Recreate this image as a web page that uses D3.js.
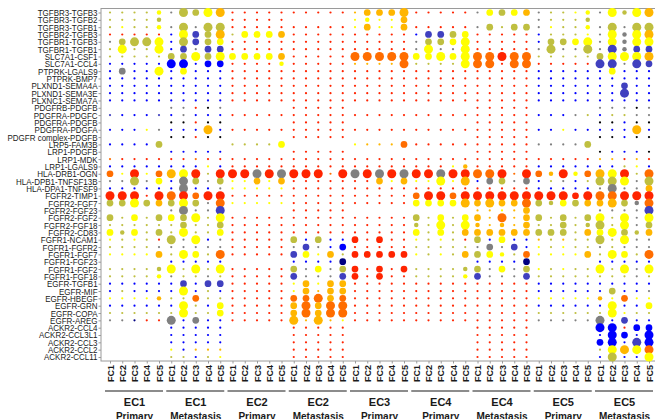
<!DOCTYPE html>
<html>
<head>
<meta charset="utf-8">
<script src="https://cdn.jsdelivr.net/npm/d3@7"></script>
<style>
  body { margin: 0; background: #fff; }
  svg { display: block; font-family: "Liberation Sans", Arial, sans-serif; }
</style>
</head>
<body>
<div id="chart"></div>
<script>
// ligand-receptor pairs, top to bottom
const pairs = [
  "TGFBR3-TGFB3", "TGFBR3-TGFB2", "TGFBR3-TGFB1", "TGFBR2-TGFB3", "TGFBR1-TGFB3", "TGFBR1-TGFB1",
  "SLC7A1-CSF1", "SLC7A1-CCL4", "PTPRK-LGALS9", "PTPRK-BMP7", "PLXND1-SEMA4A", "PLXND1-SEMA3E",
  "PLXNC1-SEMA7A", "PDGFRB-PDGFB", "PDGFRA-PDGFC", "PDGFRA-PDGFB", "PDGFRA-PDGFA", "PDGFR complex-PDGFB",
  "LRP5-FAM3B", "LRP1-PDGFB", "LRP1-MDK", "LRP1-LGALS9", "HLA-DRB1-OGN", "HLA-DPB1-TNFSF13B",
  "HLA-DPA1-TNFSF9", "FGFR2-TIMP1", "FGFR2-FGF7", "FGFR2-FGF23", "FGFR2-FGF2", "FGFR2-FGF18",
  "FGFR2-CD83", "FGFR1-NCAM1", "FGFR1-FGFR2", "FGFR1-FGF7", "FGFR1-FGF23", "FGFR1-FGF2",
  "FGFR1-FGF18", "EGFR-TGFB1", "EGFR-MIF", "EGFR-HBEGF", "EGFR-GRN", "EGFR-COPA",
  "EGFR-AREG", "ACKR2-CCL4", "ACKR2-CCL3L1", "ACKR2-CCL3", "ACKR2-CCL2", "ACKR2-CCL11"
];
const clusters = ["FC1", "FC2", "FC3", "FC4", "FC5"];
const sites = ["EC1", "EC1", "EC2", "EC2", "EC3", "EC4", "EC4", "EC5", "EC5"];
const sampleTypes = ["Primary", "Metastasis", "Primary", "Metastasis", "Primary", "Primary", "Metastasis", "Primary", "Metastasis"];

// one string per pair, 9 sample groups split by "|", 5 clusters each.
// token = mean level (0..9) + significance level (0..3), "--" = no value
const dotCodes = [
  "50 50 50 50 61|40 53 52 63 73|90 90 90 90 90|90 90 90 90 90|70 72 72 72 73|90 90 90 90 90|40 62 52 62 72|40 50 50 60 61|40 63 51 63 73",
  "50 50 50 50 51|-- -- -- -- --|90 90 90 90 90|-- -- -- -- --|60 61 60 60 72|-- -- -- -- --|-- -- -- -- --|40 50 50 50 51|-- -- -- -- --",
  "50 60 50 50 61|40 53 40 53 53|90 90 90 90 90|90 90 90 90 90|60 72 60 60 72|90 90 90 90 90|40 52 50 52 52|40 60 50 50 61|40 53 40 53 53",
  "90 90 90 90 90|20 63 32 52 73|50 62 62 62 72|90 90 90 90 90|90 90 90 90 90|20 32 32 52 62|90 90 90 90 90|20 50 50 50 60|40 63 41 63 73",
  "40 52 53 53 63|20 53 32 52 62|90 90 90 90 90|90 90 90 90 90|90 90 90 90 90|40 52 52 62 63|90 90 90 90 90|20 52 52 62 63|40 63 41 63 63",
  "50 63 50 50 63|20 32 40 32 32|90 90 90 90 90|90 90 90 90 90|90 90 90 90 90|40 63 40 40 63|90 90 90 90 90|40 53 40 40 53|40 33 41 32 32",
  "50 50 50 50 50|52 52 63 52 63|62 62 62 62 72|90 90 90 90 90|83 83 83 83 83|62 62 63 62 63|83 83 93 83 83|50 50 50 50 50|52 63 63 63 73",
  "20 20 20 20 20|23 23 20 22 22|90 90 90 90 61|90 90 90 90 90|70 70 70 70 83|50 50 50 50 63|83 83 90 83 83|90 90 90 90 90|33 33 40 33 32",
  "20 42 20 20 63|20 62 20 20 20|90 90 90 90 90|90 90 90 90 90|90 90 90 90 90|90 90 90 90 90|90 90 90 90 90|20 20 20 20 20|20 62 20 20 20",
  "20 20 20 20 20|20 20 20 20 20|90 90 90 90 90|90 90 90 90 90|90 90 90 90 90|90 90 90 90 90|90 90 90 90 90|20 20 20 20 20|20 20 20 20 20",
  "20 20 20 20 20|20 20 20 20 20|90 90 90 90 90|90 90 90 90 90|90 90 90 90 90|90 90 90 90 90|90 90 90 90 90|20 20 20 20 20|20 20 32 20 20",
  "20 20 20 20 20|20 20 20 20 20|90 90 90 90 90|90 90 90 90 90|90 90 90 90 90|90 90 90 90 90|90 90 90 90 90|20 20 20 20 20|20 20 33 20 20",
  "20 20 20 20 20|20 20 20 20 20|90 90 90 90 90|90 90 90 90 90|90 90 90 90 90|90 90 90 90 90|90 90 90 90 90|20 20 20 20 20|20 20 20 20 20",
  "-- -- -- -- --|40 40 90 00 40|-- -- -- -- --|90 90 90 90 90|-- -- -- -- --|-- -- -- -- --|90 90 90 90 90|-- -- -- -- --|40 40 40 00 40",
  "30 20 20 20 30|20 40 20 20 20|90 90 90 90 90|90 90 90 90 90|90 90 90 90 90|90 90 90 90 90|90 90 90 90 90|20 20 20 40 50|20 50 50 40 40",
  "-- -- -- -- --|00 00 90 00 00|-- -- -- -- --|90 90 90 90 90|-- -- -- -- --|-- -- -- -- --|90 90 90 90 90|-- -- -- -- --|00 00 20 00 00",
  "20 20 20 60 40|20 20 20 73 20|90 90 90 90 90|90 90 90 90 90|90 90 90 90 90|90 90 90 90 90|90 90 90 90 90|20 20 60 20 20|20 20 20 73 20",
  "-- -- -- -- --|00 00 90 00 00|-- -- -- -- --|90 90 90 90 90|-- -- -- -- --|-- -- -- -- --|90 90 90 90 90|-- -- -- -- --|00 00 20 00 00",
  "20 20 20 20 52|-- -- -- -- --|50 50 50 50 62|-- -- -- -- --|60 70 70 70 82|90 90 90 90 90|90 90 90 90 90|40 40 40 40 52|-- -- -- -- --",
  "-- -- -- -- --|20 20 20 20 20|-- -- -- -- --|90 90 90 90 90|-- -- -- -- --|-- -- -- -- --|90 90 90 90 90|-- -- -- -- --|00 20 20 20 00",
  "80 90 90 90 90|90 90 80 90 90|90 90 90 90 90|90 90 90 90 90|90 90 90 90 90|90 90 90 90 90|90 90 90 90 90|90 90 90 90 90|70 70 90 70 90",
  "20 20 20 20 20|20 20 20 60 20|90 90 90 90 90|90 90 90 90 90|90 90 90 90 90|90 90 90 60 71|90 90 90 90 90|20 20 20 20 20|20 20 50 60 20",
  "82 60 93 60 82|73 63 93 50 93|93 93 43 93 43|93 93 93 80 93|43 93 43 93 43|93 93 43 93 93|83 83 93 80 93|82 71 93 61 82|73 63 93 50 83",
  "40 40 53 40 62|20 43 52 40 52|60 60 72 60 72|90 90 90 90 90|90 90 72 60 72|60 60 63 60 73|20 42 52 40 42|20 50 40 20 50|53 53 63 40 53",
  "20 20 20 20 20|20 43 20 20 40|60 60 60 60 60|90 90 90 90 90|90 90 90 90 90|90 90 90 90 90|90 90 90 90 90|20 20 20 20 20|40 43 40 40 72",
  "93 93 93 90 93|83 93 82 93 93|90 90 90 90 90|90 90 90 90 90|90 90 90 90 90|82 93 93 82 93|93 93 93 93 93|93 93 93 92 93|83 83 93 93 93",
  "52 52 63 52 72|52 63 52 40 83|60 60 60 60 60|90 90 90 90 90|90 90 90 90 90|62 62 62 62 73|72 73 72 72 83|52 51 62 52 72|72 73 52 41 83",
  "-- -- -- -- --|40 43 40 40 33|-- -- -- -- --|90 90 90 90 90|-- -- -- -- --|-- -- -- -- --|70 70 60 70 72|-- -- -- -- --|40 40 40 40 33",
  "52 50 62 50 52|62 52 63 50 63|90 90 90 90 90|90 90 90 90 90|90 90 90 90 90|52 50 62 50 62|72 70 83 70 72|52 50 52 50 52|63 50 63 40 63",
  "50 50 50 50 50|50 52 50 50 52|90 90 90 90 90|90 90 90 90 90|90 90 90 90 90|51 50 63 50 63|71 70 71 70 72|50 50 52 50 51|53 50 63 40 52",
  "62 51 62 50 52|50 63 50 50 62|90 90 90 90 90|90 90 90 90 90|90 90 90 90 90|62 50 62 50 72|72 72 72 72 72|52 52 52 50 72|62 63 52 51 72",
  "60 50 60 50 90|53 40 63 20 40|90 90 90 90 90|52 20 52 20 20|92 90 92 90 90|60 50 60 50 90|52 20 62 20 20|70 50 70 50 50|53 50 63 40 40",
  "50 50 50 50 40|40 40 40 40 40|90 90 90 90 90|40 32 40 20 22|90 90 90 90 90|50 50 50 50 50|40 42 40 32 20|60 50 60 50 50|40 50 40 40 40",
  "60 60 60 60 72|50 63 62 50 83|90 90 90 90 90|32 62 60 72 50|92 92 92 92 92|60 50 60 50 72|52 62 61 50 82|60 60 60 60 72|50 63 62 50 83",
  "-- -- -- -- --|20 20 20 20 20|-- -- -- -- --|20 20 20 20 12|-- -- -- -- --|-- -- -- -- --|20 20 20 20 12|-- -- -- -- --|20 20 20 20 20",
  "50 50 50 50 51|63 50 63 50 63|90 90 90 90 90|52 40 62 40 52|92 90 92 90 92|50 50 50 50 51|52 40 62 40 52|60 50 60 50 50|63 50 63 40 63",
  "50 50 50 50 61|40 50 50 40 50|90 90 90 90 90|32 40 40 40 32|92 90 92 90 90|50 50 50 50 61|32 40 40 40 32|50 50 50 50 50|50 50 50 40 50",
  "20 20 20 20 20|20 32 20 32 32|90 90 90 90 90|60 72 60 72 72|90 90 90 90 90|90 90 90 90 90|90 90 90 90 90|20 20 20 20 20|20 20 20 20 20",
  "20 50 20 20 20|20 63 20 50 20|90 90 90 90 90|60 72 70 72 72|90 90 90 90 90|90 90 90 90 90|90 90 90 90 90|20 20 20 20 20|20 52 20 20 40",
  "60 60 60 60 71|50 50 82 50 50|90 90 90 90 90|82 82 83 72 82|90 90 90 90 90|90 90 90 90 90|90 90 90 90 90|60 60 60 60 60|71 60 82 60 60",
  "20 20 20 20 20|20 63 50 20 62|90 90 90 90 90|72 83 72 83 83|90 90 90 90 90|90 90 90 90 90|90 90 90 90 90|20 20 20 20 20|20 63 20 20 62",
  "50 50 50 50 50|50 63 50 50 62|90 90 90 90 90|72 83 72 83 83|90 90 90 90 90|90 90 90 90 90|90 90 90 90 90|50 50 50 50 50|50 63 60 50 50",
  "40 40 10 90 90|43 20 42 20 20|90 90 90 90 90|73 70 73 70 60|90 90 90 90 90|90 90 90 90 90|90 90 90 90 90|40 40 40 40 40|43 20 32 20 20",
  "-- -- -- -- --|20 20 20 20 20|-- -- -- -- --|90 90 90 90 90|-- -- -- -- --|-- -- -- -- --|90 90 90 90 90|-- -- -- -- --|23 23 90 22 22",
  "-- -- -- -- --|20 20 20 20 20|-- -- -- -- --|90 90 90 90 90|-- -- -- -- --|-- -- -- -- --|90 90 90 90 90|-- -- -- -- --|20 23 22 20 23",
  "-- -- -- -- --|20 20 20 20 20|-- -- -- -- --|90 90 90 90 90|-- -- -- -- --|-- -- -- -- --|90 90 90 90 90|-- -- -- -- --|22 23 20 33 23",
  "-- -- -- -- --|60 20 70 70 70|-- -- -- -- --|90 90 90 90 90|-- -- -- -- --|-- -- -- -- --|90 90 90 90 90|-- -- -- -- --|50 63 73 63 83",
  "-- -- -- -- --|50 50 20 50 60|-- -- -- -- --|90 90 90 90 90|-- -- -- -- --|-- -- -- -- --|90 90 90 90 90|-- -- -- -- --|20 53 20 20 63"
];

const width = 655;
const height = 419;
const panel = { left: 101, top: 8.5, bottom: 361 };

const svg = d3.select('#chart')
  .append('svg')
  .attr('width', width)
  .attr('height', height);

svg.append('rect').attr('width', width).attr('height', height).attr('fill', '#fff');

const nCols = sites.length * clusters.length;

// column positions, one per cluster inside each sample group
const x = d3.scalePoint()
  .domain(d3.range(nCols))
  .range([110, 649]);

const y = d3.scalePoint()
  .domain(pairs)
  .range([12.5, 357]);

// cellphonedb style palette: black -> blue -> yellow -> red
const colour = d3.scaleLinear()
  .domain([0, 2, 6, 9.5])
  .range(['#000000', '#0000ff', '#ffff00', '#ff0000'])
  .interpolate(d3.interpolateRgb);

const radius = d3.scaleLinear()
  .domain([0, 3])
  .range([1.1, 4.5]);

// flatten the coded rows into one record per dot
const dots = [];
dotCodes.forEach((row, r) => {
  row.split('|').forEach((grp, g) => {
    grp.trim().split(/\s+/).forEach((tok, c) => {
      if (tok === '--') return;
      dots.push({ pair: pairs[r], col: g * clusters.length + c, level: +tok[0], sig: +tok[1] });
    });
  });
});

// panel frame
svg.append('rect')
  .attr('x', panel.left)
  .attr('y', panel.top)
  .attr('width', width + 10 - panel.left)
  .attr('height', panel.bottom - panel.top)
  .attr('fill', 'none')
  .attr('stroke', '#9a9a9a')
  .attr('stroke-width', 1);

// y axis, labels squeezed a little like the original
const yAxis = svg.append('g')
  .attr('transform', `translate(${panel.left},0)`)
  .call(d3.axisLeft(y).tickSize(2.5).tickPadding(0));
yAxis.select('.domain').remove();
yAxis.selectAll('line').attr('stroke', '#9a9a9a');
yAxis.selectAll('text')
  .attr('fill', '#1a1a1a')
  .attr('x', -4)
  .style('font-size', '9.3px')
  .attr('transform', 'scale(0.86,1)');

// x axis
const xAxis = svg.append('g')
  .attr('transform', `translate(0,${panel.bottom})`)
  .call(d3.axisBottom(x).tickSize(2.5).tickFormat(i => clusters[i % clusters.length]));
xAxis.select('.domain').remove();
xAxis.selectAll('line').attr('stroke', '#9a9a9a');
xAxis.selectAll('text')
  .attr('fill', '#1a1a1a')
  .style('font-size', '9px')
  .style('font-weight', 'bold')
  .attr('text-anchor', 'end')
  .attr('transform', 'rotate(-90)')
  .attr('x', -4)
  .attr('y', 0)
  .attr('dy', '0.35em');

// dots
svg.append('g')
  .selectAll('circle')
  .data(dots)
  .enter()
  .append('circle')
  .attr('cx', d => x(d.col))
  .attr('cy', d => y(d.pair))
  .attr('r', d => radius(d.sig))
  .attr('fill', d => colour(d.level));

// sample group brackets and labels
const groupG = svg.append('g');
sites.forEach((s, g) => {
  const x0 = x(g * clusters.length);
  const x1 = x(g * clusters.length + clusters.length - 1);
  groupG.append('line')
    .attr('x1', x0 - 5).attr('x2', x1 + 4)
    .attr('y1', 391).attr('y2', 391)
    .attr('stroke', '#666').attr('stroke-width', 1.3);
  groupG.append('text')
    .attr('x', (x0 + x1) / 2).attr('y', 406)
    .attr('text-anchor', 'middle')
    .style('font-size', '11px').style('font-weight', 'bold')
    .attr('fill', '#1a1a1a')
    .text(s);
  groupG.append('text')
    .attr('x', (x0 + x1) / 2).attr('y', 419.5)
    .attr('text-anchor', 'middle')
    .style('font-size', '10px').style('font-weight', 'bold')
    .attr('fill', '#1a1a1a')
    .text(sampleTypes[g]);
});
</script>
</body>
</html>
